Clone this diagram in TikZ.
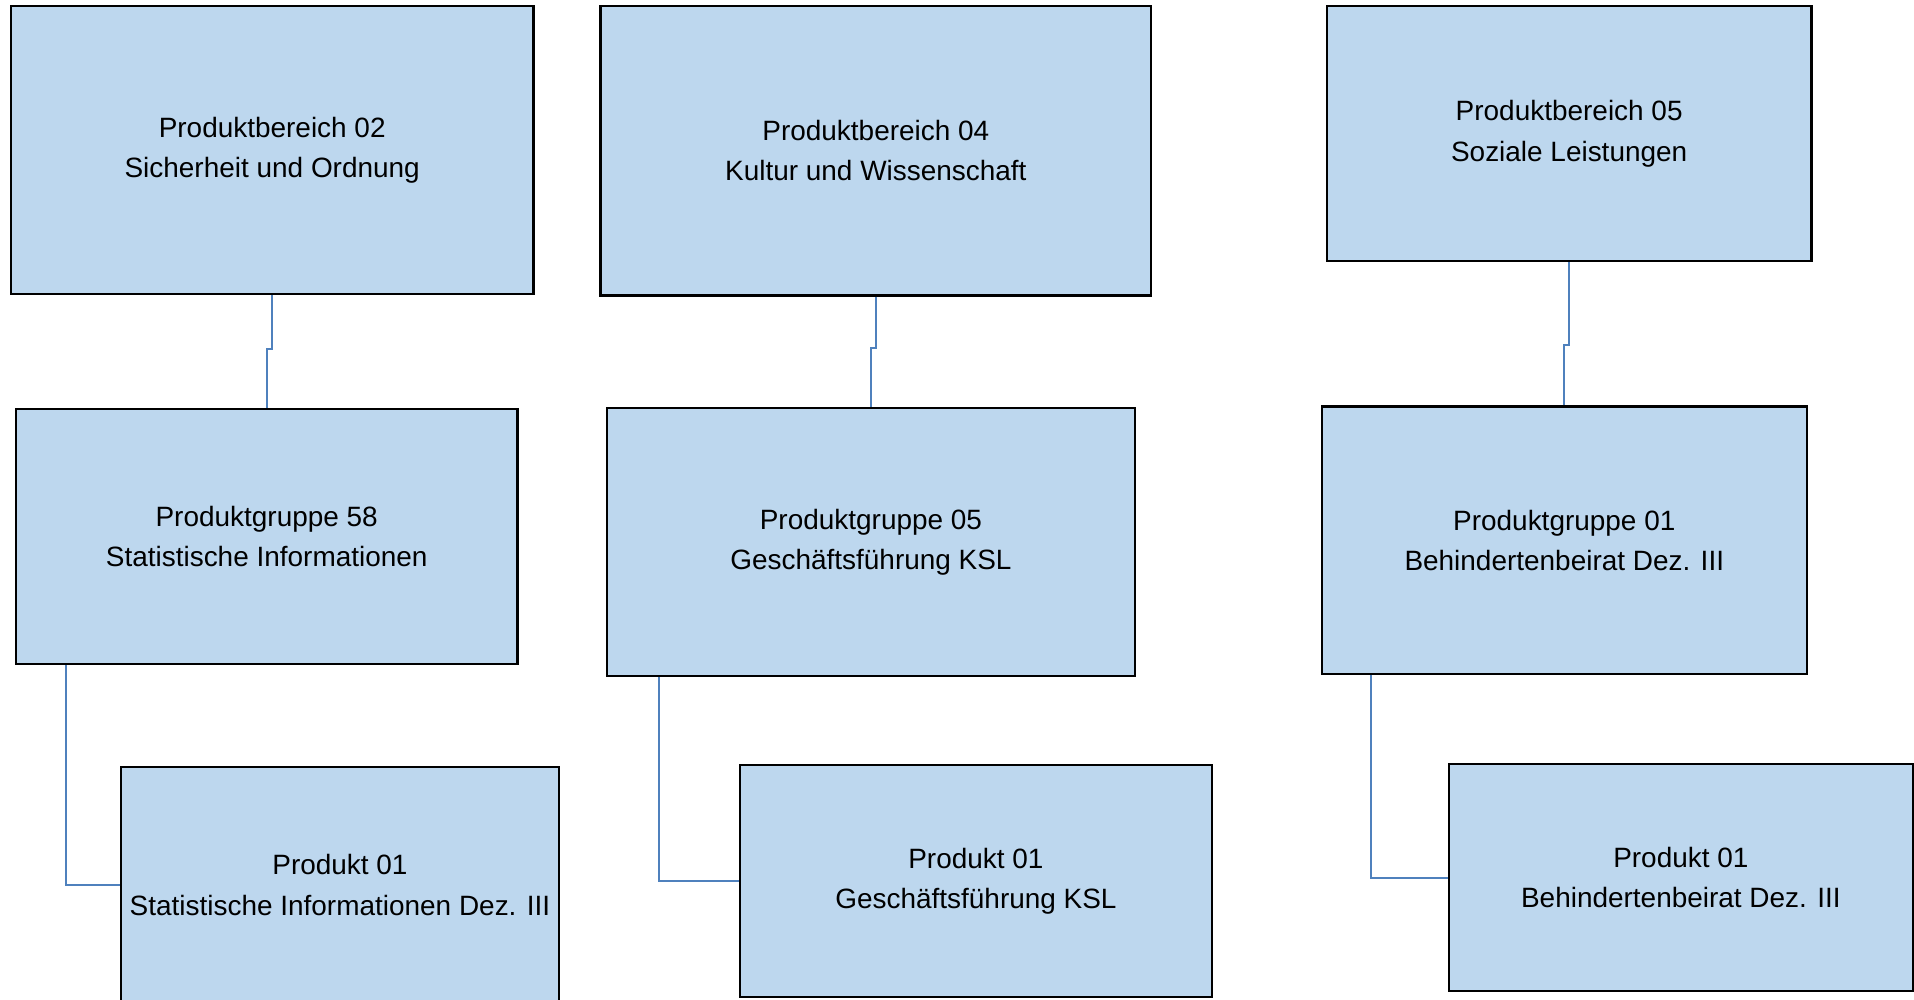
\documentclass[tikz,border=0pt]{standalone}
\usepackage{fontspec}
\setmainfont{Liberation Sans}
\definecolor{boxfill}{HTML}{BDD7EE}
\definecolor{connblue}{HTML}{4F81BD}
\begin{document}
\begin{tikzpicture}[x=1pt,y=-1pt,
  box/.style={draw=black, fill=boxfill, line width=1.8pt, inner sep=0pt, align=center,
    font=\fontsize{22.9}{33}\selectfont},
  conn/.style={draw=connblue, line width=1.6pt}]
\useasboundingbox (0,0) rectangle (1568,819.2);
% level 1
\node[box, minimum width=428, minimum height=236] (a1) at (223,123) {Produktbereich 02\\Sicherheit und Ordnung};
\node[box, minimum width=451, minimum height=237] (b1) at (717.5,123.5) {Produktbereich 04\\Kultur und Wissenschaft};
\node[box, minimum width=397, minimum height=209] (c1) at (1285.5,109.5) {Produktbereich 05\\Soziale Leistungen};
% level 2
\node[box, minimum width=411, minimum height=209] (a2) at (218.5,439.5) {Produktgruppe 58\\Statistische Informationen};
\node[box, minimum width=433, minimum height=220] (b2) at (713.5,444) {Produktgruppe 05\\Geschäftsführung KSL};
\node[box, minimum width=397, minimum height=219] (c2) at (1281.5,442.5) {Produktgruppe 01\\Behindertenbeirat Dez. III};
% level 3
\node[box, minimum width=359, minimum height=193] (a3) at (278.5,725) {Produkt 01\\Statistische Informationen Dez. III};
\node[box, minimum width=387, minimum height=190] (b3) at (799.5,722) {Produkt 01\\Geschäftsführung KSL};
\node[box, minimum width=380, minimum height=186] (c3) at (1377,719) {Produkt 01\\Behindertenbeirat Dez. III};
% jog levels
\coordinate (ja) at (0,286);
\coordinate (jb) at (0,285);
\coordinate (jc) at (0,283);
\coordinate (ka) at (54,0);
\coordinate (kb) at (540,0);
\coordinate (kc) at (1123,0);
% connectors level 1 -> 2
\draw[conn] (a1.south) -- (a1.south |- ja) -- (a2.north |- ja) -- (a2.north);
\draw[conn] (b1.south) -- (b1.south |- jb) -- (b2.north |- jb) -- (b2.north);
\draw[conn] (c1.south) -- (c1.south |- jc) -- (c2.north |- jc) -- (c2.north);
% connectors level 2 -> 3
\draw[conn] (a2.south -| ka) |- (a3.west);
\draw[conn] (b2.south -| kb) |- (b3.west);
\draw[conn] (c2.south -| kc) |- (c3.west);
\end{tikzpicture}
\end{document}
